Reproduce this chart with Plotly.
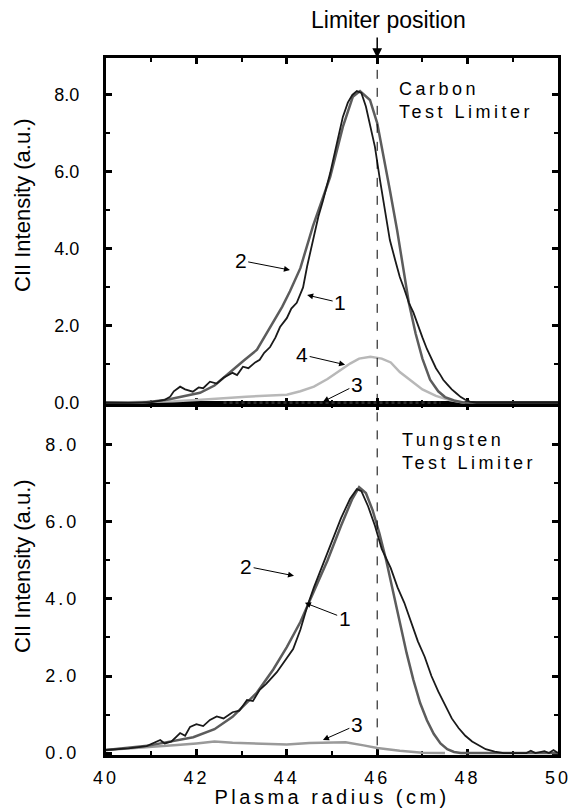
import plotly.graph_objects as go

# Carbon test limiter (top panel)
c1_x = [40.0, 40.5, 41.0, 41.3, 41.42, 41.5, 41.64, 41.75, 41.92, 42.05, 42.15, 42.3, 42.45, 42.6, 42.8, 42.9,
        43.03, 43.15, 43.3, 43.4, 43.5, 43.63, 43.75, 43.85, 44.0, 44.1, 44.22, 44.36, 44.45, 44.58, 44.7, 44.8,
        44.96, 45.1, 45.24, 45.35, 45.45, 45.55, 45.65, 45.75, 45.85, 45.95, 46.06, 46.17, 46.28, 46.4, 46.5,
        46.6, 46.7, 46.8, 46.9, 47.0, 47.1, 47.2, 47.3, 47.4, 47.46, 47.55, 47.65, 47.75, 47.85, 47.95, 48.05,
        48.2, 50.0]
c1_y = [0.0, 0.0, 0.02, 0.08, 0.16, 0.3, 0.42, 0.35, 0.29, 0.4, 0.38, 0.55, 0.5, 0.65, 0.78, 0.72,
        0.94, 0.9, 1.05, 1.12, 1.3, 1.45, 1.7, 1.97, 2.2, 2.45, 2.6, 3.0, 3.55, 4.25, 4.85, 5.25,
        5.97, 6.7, 7.43, 7.8, 8.0, 8.1, 8.05, 7.7, 7.2, 6.65, 5.8, 5.0, 4.23, 3.7, 3.27,
        2.95, 2.6, 2.35, 2.0, 1.7, 1.4, 1.15, 0.9, 0.72, 0.6, 0.48, 0.35, 0.25, 0.15, 0.08, 0.03,
        0.0, 0.0]
c2_x = [40.0, 40.8, 41.35, 41.7, 42.08, 42.4, 42.8, 43.05, 43.34, 43.5, 43.7, 43.9, 44.07, 44.3, 44.58, 44.96,
        45.24, 45.46, 45.62, 45.84, 46.0, 46.13, 46.28, 46.44, 46.57, 46.7, 46.85, 47.0, 47.17, 47.35, 47.5,
        47.7, 47.9, 48.1, 50.0]
c2_y = [0.0, 0.0, 0.08, 0.16, 0.26, 0.45, 0.86, 1.1, 1.38, 1.7, 2.08, 2.5, 2.9, 3.5, 4.6, 5.87,
        7.17, 7.95, 8.1, 7.87, 7.27, 6.49, 5.53, 4.49, 3.5, 2.6, 1.8, 1.15, 0.6, 0.3, 0.15,
        0.06, 0.01, 0.0, 0.0]
c3_x = [42.6, 44.0, 45.0, 46.0, 47.0, 47.4]
c3_y = [0.0, 0.0, 0.0, 0.0, 0.0, 0.0]
c4_x = [40.0, 41.0, 41.5, 42.1, 43.1, 44.0, 44.3, 44.6, 44.9, 45.2, 45.4, 45.6, 45.85, 46.1, 46.3, 46.5,
        46.73, 47.0, 47.3, 47.6, 47.94]
c4_y = [0.0, 0.02, 0.04, 0.08, 0.16, 0.21, 0.3, 0.42, 0.62, 0.86, 1.02, 1.15, 1.2, 1.15, 1.05, 0.8,
        0.6, 0.35, 0.18, 0.07, 0.0]

# Tungsten test limiter (bottom panel)
w1_x = [40.0, 40.5, 40.9, 41.2, 41.3, 41.45, 41.64, 41.75, 41.86, 42.0, 42.15, 42.3, 42.45, 42.6, 42.8, 42.95,
        43.12, 43.25, 43.4, 43.55, 43.78, 43.9, 44.0, 44.14, 44.3, 44.45, 44.6, 44.8, 45.0, 45.2, 45.4, 45.55,
        45.65, 45.8, 45.95, 46.1, 46.3, 46.45, 46.6, 46.75, 46.9, 47.05, 47.2, 47.35, 47.5, 47.65, 47.8, 47.95,
        48.1, 48.25, 48.4, 48.6, 48.8, 49.3, 49.4, 49.5, 49.7, 49.8, 49.9, 50.0]
w1_y = [0.08, 0.12, 0.18, 0.34, 0.25, 0.3, 0.52, 0.45, 0.68, 0.75, 0.7, 0.86, 0.95, 0.9, 1.06, 1.1,
        1.38, 1.35, 1.64, 1.8, 2.1, 2.3, 2.5, 2.7, 3.2, 3.8, 4.3, 4.9, 5.5, 6.1, 6.6, 6.85,
        6.8, 6.4, 5.9, 5.3, 4.8, 4.3, 3.9, 3.4, 2.9, 2.5, 2.0, 1.6, 1.25, 0.9, 0.65, 0.45,
        0.3, 0.2, 0.1, 0.04, 0.0, 0.0, 0.06, 0.0, 0.05, 0.0, 0.08, 0.0]
w2_x = [40.0, 40.97, 41.93, 42.4, 42.8, 43.34, 43.7, 44.0, 44.3, 44.6, 44.9, 45.2, 45.45, 45.6, 45.75, 45.9,
        46.05, 46.2, 46.35, 46.5, 46.65, 46.8, 46.95, 47.1, 47.25, 47.4, 47.55, 47.7, 47.85, 50.0]
w2_y = [0.08, 0.2, 0.41, 0.62, 0.94, 1.57, 2.17, 2.75, 3.4, 4.2, 5.0, 5.9, 6.6, 6.9, 6.75, 6.3,
        5.7, 5.0, 4.2, 3.4, 2.6, 1.9, 1.3, 0.85, 0.5, 0.25, 0.1, 0.03, 0.0, 0.0]
w3_x = [40.0, 40.5, 41.0, 41.5, 42.0, 42.4, 42.8, 43.5, 44.0, 44.5, 45.0, 45.3, 45.7, 46.0, 46.5, 47.0,
        47.5]
w3_y = [0.08, 0.12, 0.15, 0.2, 0.25, 0.3, 0.27, 0.25, 0.22, 0.26, 0.28, 0.28, 0.2, 0.13, 0.06, 0.01,
        0.0]

x_ticks = [40, 42, 44, 46, 48, 50]
y_ticks = [0, 2, 4, 6, 8]
limiter_x = 46

TXT = "Liberation Sans, Arial, Helvetica, sans-serif"
TICKF = dict(family=TXT, size=18, color="black")

fig = go.Figure()

# top panel
fig.add_trace(go.Scatter(x=c4_x, y=c4_y, xaxis="x2", yaxis="y2", mode="lines",
                         line=dict(color="#b8b8b8", width=2.5)))
fig.add_trace(go.Scatter(x=c3_x, y=c3_y, xaxis="x2", yaxis="y2", mode="lines",
                         line=dict(color="#2a2a2a", width=3, dash="dot")))
fig.add_trace(go.Scatter(x=c2_x, y=c2_y, xaxis="x2", yaxis="y2", mode="lines",
                         line=dict(color="#5c5c5c", width=2.5)))
fig.add_trace(go.Scatter(x=c1_x, y=c1_y, xaxis="x2", yaxis="y2", mode="lines",
                         line=dict(color="#1a1a1a", width=1.8)))

# bottom panel
fig.add_trace(go.Scatter(x=w3_x, y=w3_y, mode="lines", line=dict(color="#9a9a9a", width=2.5)))
fig.add_trace(go.Scatter(x=w2_x, y=w2_y, mode="lines", line=dict(color="#5c5c5c", width=2.5)))
fig.add_trace(go.Scatter(x=w1_x, y=w1_y, mode="lines", line=dict(color="#1a1a1a", width=1.8)))

split = (755 - 404) / 697

minor_ticks = dict(dtick=1, ticks="inside", ticklen=4, tickwidth=1.5, tickcolor="black")
ax_common = dict(range=[40, 50], tickvals=x_ticks, ticks="inside", ticklen=6, tickwidth=2.5,
                 tickcolor="black", showline=True, linewidth=3, linecolor="black", mirror="ticks",
                 showgrid=False, zeroline=False, automargin=False, layer="below traces",
                 minor=minor_ticks)
ay_common = dict(tickvals=y_ticks, ticks="inside", ticklen=6, tickwidth=2.5, tickcolor="black",
                 showline=True, linewidth=3, linecolor="black", mirror="ticks",
                 showgrid=False, zeroline=False, tickformat=".1f", tickfont=TICKF,
                 ticklabelstandoff=20, automargin=False, layer="below traces",
                 minor=minor_ticks)

fig.update_layout(
    template="none",
    width=573, height=811,
    margin=dict(l=106, r=15, t=58, b=56, autoexpand=False),
    paper_bgcolor="white", plot_bgcolor="white",
    font=dict(family=TXT, color="black"),
    showlegend=False,
    xaxis=dict(**ax_common, anchor="y", showticklabels=True, tickfont=TICKF, ticklabelstandoff=4),
    yaxis=dict(**ay_common, domain=[0, split], range=[-0.05, 9.06]),
    xaxis2=dict(**ax_common, anchor="y2", showticklabels=False),
    yaxis2=dict(**ay_common, domain=[split, 1], range=[-0.03, 8.96]),
)

# limiter position dashed lines
fig.add_shape(type="line", xref="x2", yref="y2", x0=limiter_x, x1=limiter_x, y0=0, y1=8.96,
              line=dict(color="black", width=1, dash="dash"))
fig.add_shape(type="line", xref="x", yref="y", x0=limiter_x, x1=limiter_x, y0=0.2, y1=9.06,
              line=dict(color="black", width=1, dash="dash"))

fig.add_annotation(xref="paper", yref="paper", x=(388 - 106) / 452, y=(755 - 20) / 697,
                   xanchor="center", yanchor="middle",
                   text="Limiter position", showarrow=False,
                   font=dict(family=TXT, size=23, color="black"))
fig.add_annotation(xref="x2", yref="y2", x=limiter_x, y=8.96, text="", showarrow=True,
                   ax=0, ay=-22, arrowhead=2, arrowsize=1.3, arrowwidth=1.5, arrowcolor="black")

# axis titles
fig.add_annotation(xref="paper", yref="paper", x=0.5, y=(755 - 797) / 697,
                   xanchor="center", yanchor="middle",
                   text="Plasma radius (cm)", showarrow=False,
                   font=dict(family=TXT, size=20, color="black"))
for yc in [(755 - 205) / 697, (755 - 566) / 697]:
    fig.add_annotation(xref="paper", yref="paper", x=(22 - 106) / 452, y=yc,
                       xanchor="center", yanchor="middle",
                       text="CII Intensity (a.u.)", textangle=-90, showarrow=False,
                       font=dict(family=TXT, size=22, color="black"))

# panel labels
fig.add_annotation(xref="paper", yref="paper", x=(397 - 106) / 452, y=(755 - 100) / 697,
                   text="Carbon<br>Test Limiter", align="left", xanchor="left", yanchor="middle",
                   showarrow=False, font=dict(family=TXT, size=18, color="black"))
fig.add_annotation(xref="paper", yref="paper", x=(400 - 106) / 452, y=(755 - 451) / 697,
                   text="Tungsten<br>Test Limiter", align="left", xanchor="left", yanchor="middle",
                   showarrow=False, font=dict(family=TXT, size=18, color="black"))

# curve labels: (text, text_x, text_y, tip_x, tip_y, axes)
labels = [
    ("2", 42.98, 3.7, 44.07, 3.45, "2"),
    ("1", 45.18, 2.6, 44.45, 2.8, "2"),
    ("4", 44.34, 1.25, 45.29, 0.99, "2"),
    ("3", 45.55, 0.47, 44.8, 0.03, "2"),
    ("2", 43.1, 4.85, 44.16, 4.6, ""),
    ("1", 45.28, 3.5, 44.4, 3.9, ""),
    ("3", 45.55, 0.73, 44.8, 0.34, ""),
]
for txt, tx, ty, px, py, k in labels:
    fig.add_annotation(xref="x" + k, yref="y" + k, axref="x" + k, ayref="y" + k,
                       x=px, y=py, ax=tx, ay=ty, text=txt, showarrow=True,
                       arrowhead=2, arrowsize=1.2, arrowwidth=1, arrowcolor="black", standoff=0,
                       font=dict(family=TXT, size=21, color="black"))

# page without body margin; widely spaced lettering like the original
page_js = """
document.body.style.margin = '0';
var gd = document.getElementById('{plot_id}');
gd.querySelectorAll('.xtick text, .ytick text').forEach(function (t) { t.style.letterSpacing = '3px'; });
gd.querySelectorAll('.annotation-text').forEach(function (t) {
    var s = t.textContent;
    if (s.indexOf('Test Limiter') >= 0) { t.style.letterSpacing = '3.5px'; }
    if (s.indexOf('Plasma') === 0) { t.style.letterSpacing = '3.5px'; }
});
"""

fig.write_html("out.html", post_script=page_js, config={"displayModeBar": False})
